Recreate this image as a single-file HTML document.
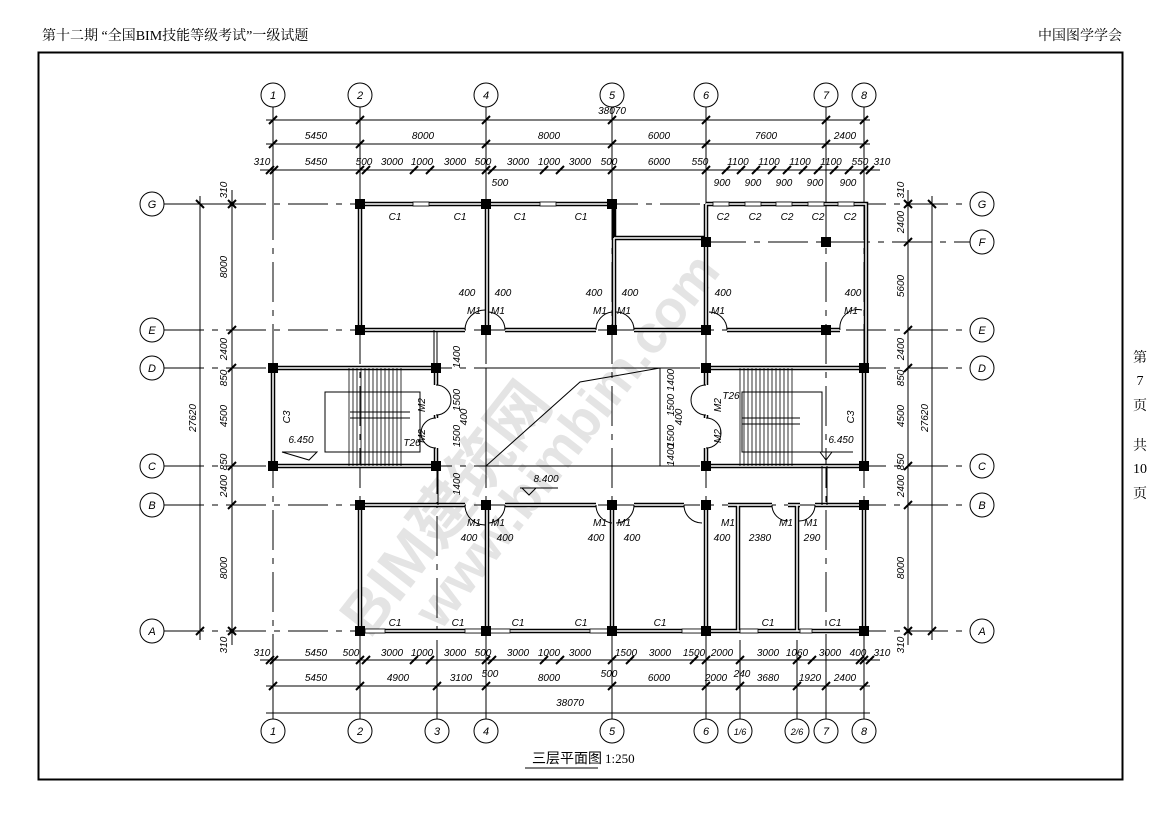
<!DOCTYPE html>
<html><head><meta charset="utf-8"><style>
html,body{margin:0;padding:0;background:#fff;}
svg{display:block;}
.d{font-family:"Liberation Sans",sans-serif;font-style:italic;font-size:10px;fill:#000;text-anchor:middle;}
.g{font-family:"Liberation Sans",sans-serif;font-style:italic;font-size:11px;fill:#000;text-anchor:middle;}
.h{font-family:"Liberation Serif","Noto Serif CJK SC",serif;font-size:14px;fill:#000;}
</style></head><body>
<svg width="1169" height="826" viewBox="0 0 1169 826" xmlns="http://www.w3.org/2000/svg">
<rect width="1169" height="826" fill="#fff"/>
<!-- watermark -->
<g fill="#e4e4e4" font-family="Liberation Sans,'Noto Sans CJK SC',sans-serif" font-weight="bold">
<text x="0" y="0" font-size="62" transform="translate(370,640) rotate(-52)">BIM建筑网</text>
<text x="0" y="0" font-size="54" transform="translate(350,650) rotate(-52)" dx="70" dy="60">www.bimbim.com</text>
</g>
<text class="h" x="42" y="40">第十二期 “全国BIM技能等级考试”一级试题</text>
<text class="h" x="1122" y="40" text-anchor="end">中国图学学会</text>
<g class="h" text-anchor="middle">
<text x="1140" y="362">第</text><text x="1140" y="385">7</text><text x="1140" y="410">页</text>
<text x="1140" y="450">共</text><text x="1140" y="473">10</text><text x="1140" y="498">页</text>
</g>
<rect x="38.5" y="52.5" width="1084" height="727" fill="none" stroke="#000" stroke-width="2"/>

<!-- grid lines vertical -->
<g stroke="#000" stroke-width="1" fill="none">
<g stroke-dasharray="40,8,6,8">
<line x1="273" y1="200" x2="273" y2="640"/><line x1="360" y1="200" x2="360" y2="640"/>
<line x1="486" y1="200" x2="486" y2="640"/><line x1="612" y1="200" x2="612" y2="640"/>
<line x1="706" y1="200" x2="706" y2="640"/><line x1="826" y1="200" x2="826" y2="640"/>
<line x1="864" y1="200" x2="864" y2="640"/>
<line x1="437" y1="330" x2="437" y2="640"/>
<line x1="164" y1="204" x2="970" y2="204"/><line x1="706" y1="242" x2="970" y2="242"/>
<line x1="164" y1="330" x2="970" y2="330"/><line x1="164" y1="368" x2="970" y2="368"/>
<line x1="164" y1="466" x2="970" y2="466"/><line x1="164" y1="505" x2="970" y2="505"/>
<line x1="164" y1="631" x2="970" y2="631"/>
</g>
<!-- extension lines top -->
<line x1="273" y1="107" x2="273" y2="200"/><line x1="360" y1="107" x2="360" y2="200"/>
<line x1="486" y1="107" x2="486" y2="200"/><line x1="612" y1="107" x2="612" y2="200"/>
<line x1="706" y1="107" x2="706" y2="200"/><line x1="826" y1="107" x2="826" y2="200"/>
<line x1="864" y1="107" x2="864" y2="200"/>
<!-- bottom -->
<line x1="273" y1="640" x2="273" y2="719"/><line x1="360" y1="640" x2="360" y2="719"/>
<line x1="437" y1="640" x2="437" y2="719"/><line x1="486" y1="640" x2="486" y2="719"/>
<line x1="612" y1="640" x2="612" y2="719"/><line x1="706" y1="640" x2="706" y2="719"/>
<line x1="740" y1="640" x2="740" y2="719"/><line x1="797" y1="640" x2="797" y2="719"/>
<line x1="826" y1="640" x2="826" y2="719"/><line x1="864" y1="640" x2="864" y2="719"/>
<!-- left/right ext -->
<line x1="164" y1="204" x2="250" y2="204" stroke-dasharray="none"/>
<!-- dimension lines -->
<line x1="266" y1="120" x2="870" y2="120"/><line x1="266" y1="144" x2="870" y2="144"/>
<line x1="260" y1="170" x2="880" y2="170"/>
<line x1="260" y1="660" x2="880" y2="660"/><line x1="266" y1="686" x2="870" y2="686"/>
<line x1="266" y1="713" x2="870" y2="713"/>
<line x1="200" y1="196" x2="200" y2="640"/><line x1="232" y1="190" x2="232" y2="645"/>
<line x1="908" y1="190" x2="908" y2="645"/><line x1="932" y1="196" x2="932" y2="640"/>
</g>
<!-- tick marks -->
<g stroke="#000" stroke-width="2">
<path d="M269 124l8-8M356 124l8-8M482 124l8-8M608 124l8-8M702 124l8-8M822 124l8-8M860 124l8-8"/>
<path d="M269 148l8-8M356 148l8-8M482 148l8-8M608 148l8-8M702 148l8-8M822 148l8-8M860 148l8-8"/>
<path d="M266 174l8-8M270 174l8-8M356 174l8-8M362 174l8-8M410 174l8-8M426 174l8-8M482 174l8-8M488 174l8-8M540 174l8-8M556 174l8-8M608 174l8-8M702 174l8-8M722 174l8-8M737 174l8-8M752 174l8-8M768 174l8-8M783 174l8-8M799 174l8-8M814 174l8-8M830 174l8-8M845 174l8-8M860 174l8-8M866 174l8-8"/>
<path d="M266 664l8-8M270 664l8-8M356 664l8-8M362 664l8-8M410 664l8-8M426 664l8-8M482 664l8-8M488 664l8-8M540 664l8-8M556 664l8-8M608 664l8-8M626 664l8-8M690 664l8-8M702 664l8-8M736 664l8-8M793 664l8-8M808 664l8-8M856 664l8-8M860 664l8-8M866 664l8-8"/>
<path d="M269 690l8-8M356 690l8-8M433 690l8-8M482 690l8-8M608 690l8-8M702 690l8-8M736 690l8-8M793 690l8-8M822 690l8-8M860 690l8-8"/>
<path d="M196 200l8 8M196 635l8-8"/>
<path d="M228 200l8 8M228 208l8-8M228 334l8-8M228 372l8-8M228 470l8-8M228 509l8-8M228 627l8 8M228 635l8-8"/>
<path d="M904 200l8 8M904 208l8-8M904 246l8-8M904 334l8-8M904 372l8-8M904 470l8-8M904 509l8-8M904 627l8 8M904 635l8-8"/>
<path d="M928 200l8 8M928 635l8-8"/>
</g>
<!-- dim texts -->
<g class="d">
<text x="612" y="114">38070</text>
<text x="316" y="139">5450</text><text x="423" y="139">8000</text><text x="549" y="139">8000</text><text x="659" y="139">6000</text><text x="766" y="139">7600</text><text x="845" y="139">2400</text>
<text x="262" y="165">310</text><text x="316" y="165">5450</text><text x="364" y="165">500</text><text x="392" y="165">3000</text><text x="422" y="165">1000</text><text x="455" y="165">3000</text><text x="483" y="165">500</text><text x="518" y="165">3000</text><text x="549" y="165">1000</text><text x="580" y="165">3000</text><text x="609" y="165">500</text><text x="659" y="165">6000</text><text x="700" y="165">550</text><text x="738" y="165">1100</text><text x="769" y="165">1100</text><text x="800" y="165">1100</text><text x="831" y="165">1100</text><text x="860" y="165">550</text><text x="882" y="165">310</text>
<text x="500" y="186">500</text><text x="722" y="186">900</text><text x="753" y="186">900</text><text x="784" y="186">900</text><text x="815" y="186">900</text><text x="848" y="186">900</text>
<text x="262" y="656">310</text><text x="316" y="656">5450</text><text x="351" y="656">500</text><text x="392" y="656">3000</text><text x="422" y="656">1000</text><text x="455" y="656">3000</text><text x="483" y="656">500</text><text x="518" y="656">3000</text><text x="549" y="656">1000</text><text x="580" y="656">3000</text><text x="626" y="656">1500</text><text x="660" y="656">3000</text><text x="694" y="656">1500</text><text x="722" y="656">2000</text><text x="768" y="656">3000</text><text x="797" y="656">1060</text><text x="830" y="656">3000</text><text x="858" y="656">400</text><text x="882" y="656">310</text>
<text x="316" y="681">5450</text><text x="398" y="681">4900</text><text x="461" y="681">3100</text><text x="490" y="677">500</text><text x="549" y="681">8000</text><text x="609" y="677">500</text><text x="659" y="681">6000</text><text x="716" y="681">2000</text><text x="742" y="677">240</text><text x="768" y="681">3680</text><text x="810" y="681">1920</text><text x="845" y="681">2400</text>
<text x="570" y="706">38070</text>
</g>
<g class="d">
<text transform="translate(227,190) rotate(-90)">310</text>
<text transform="translate(227,267) rotate(-90)">8000</text>
<text transform="translate(227,349) rotate(-90)">2400</text>
<text transform="translate(227,378) rotate(-90)">850</text>
<text transform="translate(227,416) rotate(-90)">4500</text>
<text transform="translate(227,462) rotate(-90)">850</text>
<text transform="translate(227,486) rotate(-90)">2400</text>
<text transform="translate(227,568) rotate(-90)">8000</text>
<text transform="translate(227,645) rotate(-90)">310</text>
<text transform="translate(196,418) rotate(-90)">27620</text>
<text transform="translate(904,190) rotate(-90)">310</text>
<text transform="translate(904,222) rotate(-90)">2400</text>
<text transform="translate(904,286) rotate(-90)">5600</text>
<text transform="translate(904,349) rotate(-90)">2400</text>
<text transform="translate(904,378) rotate(-90)">850</text>
<text transform="translate(904,416) rotate(-90)">4500</text>
<text transform="translate(904,462) rotate(-90)">850</text>
<text transform="translate(904,486) rotate(-90)">2400</text>
<text transform="translate(904,568) rotate(-90)">8000</text>
<text transform="translate(904,645) rotate(-90)">310</text>
<text transform="translate(928,418) rotate(-90)">27620</text>
</g>
<!-- axis circles -->
<g fill="#fff" stroke="#000" stroke-width="1">
<circle cx="273" cy="95" r="12"/><circle cx="360" cy="95" r="12"/><circle cx="486" cy="95" r="12"/><circle cx="612" cy="95" r="12"/><circle cx="706" cy="95" r="12"/><circle cx="826" cy="95" r="12"/><circle cx="864" cy="95" r="12"/>
<circle cx="273" cy="731" r="12"/><circle cx="360" cy="731" r="12"/><circle cx="437" cy="731" r="12"/><circle cx="486" cy="731" r="12"/><circle cx="612" cy="731" r="12"/><circle cx="706" cy="731" r="12"/><circle cx="740" cy="731" r="12"/><circle cx="797" cy="731" r="12"/><circle cx="826" cy="731" r="12"/><circle cx="864" cy="731" r="12"/>
<circle cx="152" cy="204" r="12"/><circle cx="152" cy="330" r="12"/><circle cx="152" cy="368" r="12"/><circle cx="152" cy="466" r="12"/><circle cx="152" cy="505" r="12"/><circle cx="152" cy="631" r="12"/>
<circle cx="982" cy="204" r="12"/><circle cx="982" cy="242" r="12"/><circle cx="982" cy="330" r="12"/><circle cx="982" cy="368" r="12"/><circle cx="982" cy="466" r="12"/><circle cx="982" cy="505" r="12"/><circle cx="982" cy="631" r="12"/>
</g>
<g class="g">
<text x="273" y="99">1</text><text x="360" y="99">2</text><text x="486" y="99">4</text><text x="612" y="99">5</text><text x="706" y="99">6</text><text x="826" y="99">7</text><text x="864" y="99">8</text>
<text x="273" y="735">1</text><text x="360" y="735">2</text><text x="437" y="735">3</text><text x="486" y="735">4</text><text x="612" y="735">5</text><text x="706" y="735">6</text><text x="740" y="735" font-size="9">1/6</text><text x="797" y="735" font-size="9">2/6</text><text x="826" y="735">7</text><text x="864" y="735">8</text>
<text x="152" y="208">G</text><text x="152" y="334">E</text><text x="152" y="372">D</text><text x="152" y="470">C</text><text x="152" y="509">B</text><text x="152" y="635">A</text>
<text x="982" y="208">G</text><text x="982" y="246">F</text><text x="982" y="334">E</text><text x="982" y="372">D</text><text x="982" y="470">C</text><text x="982" y="509">B</text><text x="982" y="635">A</text>
</g>

<!-- walls -->
<g fill="none" stroke="#000" stroke-width="4.5">
<!-- top block -->
<path d="M360 204H614M360 204V330M360 330H465M487 204V330M614 204V238H706M614 238V330M505 330H596M634 330H706M706 204H866V368M706 204V330M727 330H840"/>
<!-- middle stairs -->
<rect x="273" y="368" width="163" height="98"/>
<rect x="706" y="368" width="158" height="98"/>
<!-- bottom block -->
<path d="M360 505V631H864V505M360 505H465M505 505H596M634 505H684M728 505H772M788 505H800M815 505H864M487 505V631M612 505V631M706 505V631M738 505V631M797 505V631"/>
</g>
<g fill="none" stroke="#fff" stroke-width="1.5">
<path d="M360 204H614M360 204V330M360 330H465M487 204V330M614 238H706M614 238V330M505 330H596M634 330H706M706 204H866V368M706 204V330M727 330H840"/>
<rect x="273" y="368" width="163" height="98"/>
<rect x="706" y="368" width="158" height="98"/>
<path d="M360 505V631H864V505M360 505H465M505 505H596M634 505H684M728 505H772M788 505H800M815 505H864M487 505V631M612 505V631M706 505V631M738 505V631M797 505V631"/>
</g>
<!-- door gaps in stair walls -->
<g fill="#fff"><rect x="432" y="385" width="8" height="30"/><rect x="432" y="418" width="8" height="30"/><rect x="702" y="385" width="8" height="30"/><rect x="702" y="418" width="8" height="30"/></g>
<!-- door arcs -->
<g fill="none" stroke="#000" stroke-width="1">
<path d="M465 330A20 20 0 0 1 485 310M505 330A18 18 0 0 0 489 312M596 330A18 18 0 0 1 612 312M634 330A18 18 0 0 0 616 312M727 330A18 18 0 0 0 709 312M840 330A18 18 0 0 1 862 310"/>
<path d="M465 505A20 20 0 0 0 485 525M505 505A18 18 0 0 1 489 523M596 505A18 18 0 0 0 612 523M634 505A18 18 0 0 1 616 523M684 505A18 18 0 0 0 702 523M772 505A16 16 0 0 0 788 521M815 505A16 16 0 0 1 799 521"/>
<path d="M436 385A15 15 0 0 1 436 415M436 448A15 15 0 0 1 436 418M706 385A15 15 0 0 0 706 415M706 448A15 15 0 0 0 706 418"/>
<!-- atrium -->
<rect x="486" y="368" width="174" height="98"/>
<path d="M486 466L580 382L660 368"/>
<!-- stairs -->
<rect x="325" y="392" width="95" height="60"/>
<rect x="742" y="392" width="80" height="60"/>
<path d="M350 412H410M350 418H410"/>
<path d="M742 418H800M742 424H800"/>
<path d="M290 370h0"/>
<line x1="434" y1="330" x2="434" y2="368"/><line x1="438" y1="466" x2="438" y2="505"/>
<line x1="822" y1="466" x2="822" y2="505"/><line x1="827" y1="466" x2="827" y2="505"/>
<path d="M282 452h35l-8 8z"/><path d="M818 452h35M820 452l6 8l6-8"/>
<path d="M520 488h38M522 488l7 7l7-7"/>
</g>
<g stroke="#000" stroke-width="0.8">
<path d="M349 368V466M353 368V466M357 368V466M361 368V466M365 368V466M369 368V466M373 368V466M377 368V466M381 368V466M385 368V466M389 368V466M393 368V466M397 368V466M401 368V466"/>
<path d="M740 368V466M744 368V466M748 368V466M752 368V466M756 368V466M760 368V466M764 368V466M768 368V466M772 368V466M776 368V466M780 368V466M784 368V466M788 368V466M792 368V466"/>
</g>
<!-- windows (white slots on walls) -->
<g fill="#fff" stroke="#000" stroke-width="0.8">
<rect x="413" y="202" width="16" height="4"/><rect x="540" y="202" width="16" height="4"/>
<rect x="713" y="202" width="16" height="4"/><rect x="745" y="202" width="16" height="4"/><rect x="776" y="202" width="16" height="4"/><rect x="808" y="202" width="16" height="4"/><rect x="838" y="202" width="16" height="4"/>
<rect x="365" y="629" width="20" height="4"/><rect x="465" y="629" width="20" height="4"/><rect x="490" y="629" width="20" height="4"/><rect x="590" y="629" width="20" height="4"/><rect x="682" y="629" width="22" height="4"/><rect x="740" y="629" width="18" height="4"/><rect x="800" y="629" width="12" height="4"/>
</g>
<!-- columns -->
<g fill="#000">
<rect x="355" y="199" width="10" height="10"/><rect x="481" y="199" width="10" height="10"/><rect x="607" y="199" width="10" height="10"/>
<rect x="355" y="325" width="10" height="10"/><rect x="481" y="325" width="10" height="10"/><rect x="607" y="325" width="10" height="10"/><rect x="701" y="325" width="10" height="10"/><rect x="821" y="325" width="10" height="10"/>
<rect x="701" y="237" width="10" height="10"/><rect x="821" y="237" width="10" height="10"/>
<rect x="268" y="363" width="10" height="10"/><rect x="431" y="363" width="10" height="10"/><rect x="268" y="461" width="10" height="10"/><rect x="431" y="461" width="10" height="10"/>
<rect x="701" y="363" width="10" height="10"/><rect x="859" y="363" width="10" height="10"/><rect x="701" y="461" width="10" height="10"/><rect x="859" y="461" width="10" height="10"/>
<rect x="355" y="500" width="10" height="10"/><rect x="481" y="500" width="10" height="10"/><rect x="607" y="500" width="10" height="10"/><rect x="701" y="500" width="10" height="10"/><rect x="859" y="500" width="10" height="10"/>
<rect x="355" y="626" width="10" height="10"/><rect x="481" y="626" width="10" height="10"/><rect x="607" y="626" width="10" height="10"/><rect x="701" y="626" width="10" height="10"/><rect x="859" y="626" width="10" height="10"/>
</g>
<!-- room labels -->
<g class="d">
<text x="395" y="220">C1</text><text x="460" y="220">C1</text><text x="520" y="220">C1</text><text x="581" y="220">C1</text>
<text x="723" y="220">C2</text><text x="755" y="220">C2</text><text x="787" y="220">C2</text><text x="818" y="220">C2</text><text x="850" y="220">C2</text>
<text x="395" y="626">C1</text><text x="458" y="626">C1</text><text x="518" y="626">C1</text><text x="581" y="626">C1</text><text x="660" y="626">C1</text><text x="768" y="626">C1</text><text x="835" y="626">C1</text>
<text x="467" y="296">400</text><text x="503" y="296">400</text><text x="594" y="296">400</text><text x="630" y="296">400</text><text x="723" y="296">400</text><text x="853" y="296">400</text>
<text x="474" y="314">M1</text><text x="498" y="314">M1</text><text x="600" y="314">M1</text><text x="624" y="314">M1</text><text x="718" y="314">M1</text><text x="851" y="314">M1</text>
<text x="474" y="526">M1</text><text x="498" y="526">M1</text><text x="600" y="526">M1</text><text x="624" y="526">M1</text><text x="728" y="526">M1</text><text x="786" y="526">M1</text><text x="811" y="526">M1</text>
<text x="469" y="541">400</text><text x="505" y="541">400</text><text x="596" y="541">400</text><text x="632" y="541">400</text><text x="722" y="541">400</text><text x="760" y="541">2380</text><text x="812" y="541">290</text>
<text x="301" y="443">6.450</text><text x="841" y="443">6.450</text><text x="546" y="482">8.400</text>
<text x="412" y="446">T26</text><text x="731" y="399">T26</text>
<text transform="translate(290,417) rotate(-90)">C3</text><text transform="translate(854,417) rotate(-90)">C3</text>
<text transform="translate(425,405) rotate(-90)">M2</text><text transform="translate(425,436) rotate(-90)">M2</text>
<text transform="translate(721,405) rotate(-90)">M2</text><text transform="translate(721,436) rotate(-90)">M2</text>
<text transform="translate(460,357) rotate(-90)">1400</text><text transform="translate(460,400) rotate(-90)">1500</text><text transform="translate(467,417) rotate(-90)">400</text><text transform="translate(460,436) rotate(-90)">1500</text><text transform="translate(460,484) rotate(-90)">1400</text>
<text transform="translate(674,380) rotate(-90)">1400</text><text transform="translate(674,405) rotate(-90)">1500</text><text transform="translate(682,417) rotate(-90)">400</text><text transform="translate(674,436) rotate(-90)">1500</text><text transform="translate(674,455) rotate(-90)">1400</text>
</g>
<text x="532" y="763" font-family="Liberation Sans,'Noto Sans CJK SC',sans-serif" font-size="14">三层平面图</text>
<line x1="525" y1="768" x2="598" y2="768" stroke="#000" stroke-width="1"/>
<text x="605" y="763" font-family="Liberation Serif,serif" font-size="13">1:250</text>
</svg>
</body></html>
